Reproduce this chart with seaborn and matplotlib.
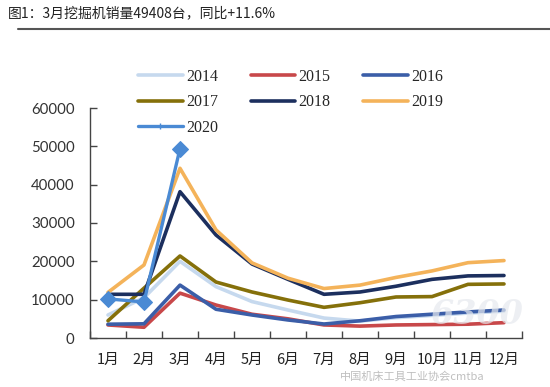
import matplotlib
matplotlib.use("Agg")
import matplotlib.pyplot as plt
import seaborn as sns
import pandas as pd
import numpy as np
from matplotlib.lines import Line2D
from matplotlib.ticker import FixedLocator

months = ['1月', '2月', '3月', '4月', '5月', '6月', '7月', '8月', '9月', '10月', '11月', '12月']
years = ['2014', '2015', '2016', '2017', '2018', '2019', '2020']
s2014 = [6000, 10500, 20000, 13400, 9500, 7300, 5200, 4400, 5300, 5900, 6500, 7000]
s2015 = [3400, 2800, 11700, 8600, 6200, 5000, 3400, 3100, 3400, 3500, 3600, 4000]
s2016 = [3600, 3700, 13800, 7500, 6000, 4700, 3650, 4500, 5600, 6200, 6800, 7300]
s2017 = [4500, 13000, 21400, 14600, 12000, 9900, 8000, 9200, 10700, 10800, 14000, 14100]
s2018 = [11400, 11400, 38170, 26870, 19300, 15300, 11400, 12000, 13500, 15300, 16200, 16300]
s2019 = [11900, 19050, 44270, 28200, 19600, 15600, 12900, 13800, 15800, 17500, 19650, 20200]
s2020 = [10200, 9400, 49408]
yticks = [0, 10000, 20000, 30000, 40000, 50000, 60000]

series = [s2014, s2015, s2016, s2017, s2018, s2019, s2020]
colors = ['#c6d9ee', '#c8484a', '#3b5ea8', '#85700a', '#1c2f5e', '#f4b35a', '#4a8ad4']

rows = []
for y, vals in zip(years, series):
    for i, v in enumerate(vals):
        rows.append({'year': y, 'm': i, 'v': v})
df = pd.DataFrame(rows)

sns.set_theme(style='white')
plt.rcParams['font.family'] = ['Noto Sans CJK SC', 'DejaVu Sans']

fig = plt.figure(figsize=(5.5, 3.87), dpi=100)
ax = fig.add_axes([90/550, 1-338/387, 432/550, 230/387])

for y, c in zip(years, colors):
    sub = df[df.year == y]
    if y == '2020':
        sns.lineplot(data=sub, x='m', y='v', ax=ax, color=c, lw=2.4, marker='D',
                     markersize=8, markeredgecolor=c, label=y, legend=False)
    else:
        sns.lineplot(data=sub, x='m', y='v', ax=ax, color=c, lw=2.6, label=y, legend=False)

ax.set_xlim(-0.5, 11.5)
ax.set_ylim(0, 60000)
ax.set_xlabel('')
ax.set_ylabel('')
ax.set_xticks(range(12))
ax.set_xticklabels(months, fontsize=10.5, color='#222222')
ax.xaxis.set_minor_locator(FixedLocator(np.arange(-0.5, 12, 1)))
ax.tick_params(axis='x', which='major', length=0, pad=11)
ax.tick_params(axis='x', which='minor', length=5, direction='in', color='#444444', width=1, bottom=True)
ax.set_yticks(yticks)
ax.set_yticklabels([str(t) for t in yticks], fontsize=10.8, color='#333333', family=['Lato', 'DejaVu Sans'])
ax.tick_params(axis='y', length=5, direction='in', color='#444444', width=1, left=True, pad=11)
for s in ['top', 'right']:
    ax.spines[s].set_visible(False)
for s in ['left', 'bottom']:
    ax.spines[s].set_color('#444444')
    ax.spines[s].set_linewidth(1)

# legend (row-wise ordering in 3 columns)
handles = {}
for y, c in zip(years, colors):
    if y == '2020':
        handles[y] = Line2D([], [], color=c, lw=2.4, marker='+', markersize=4, markeredgecolor=c)
    else:
        handles[y] = Line2D([], [], color=c, lw=2.6)
order = ['2014', '2017', '2020', '2015', '2018', '2016', '2019']
fig.legend([handles[k] for k in order], order, ncol=3, loc='upper left',
           bbox_to_anchor=(138/550, 1-69/387), frameon=False,
           prop={'family': 'Liberation Serif', 'size': 11.5},
           handlelength=2.8, handletextpad=0.2, columnspacing=2.05,
           labelspacing=0.58, borderpad=0, borderaxespad=0)

# title and rule
fig.text(8/550, 1-13/387, '图1：3月挖掘机销量49408台，同比+11.6%', fontsize=10,
         color='#222222', va='center', ha='left')
fig.add_artist(Line2D([18/550, 1.0], [1-29/387, 1-29/387], color='#555555', lw=1.5))

# watermark
fig.text(340/550, 1-376/387, '中国机床工具工业协会cmtba', fontsize=8, color='#b8b8b8',
         va='center', ha='left', alpha=0.9)
fig.text(430/550, 1-315/387, '6300', fontsize=24, color='#e6e9ee', style='italic',
         fontweight='bold', va='center', ha='left', alpha=0.7, family=['DejaVu Serif'])

fig.savefig('out.png', dpi=100)
